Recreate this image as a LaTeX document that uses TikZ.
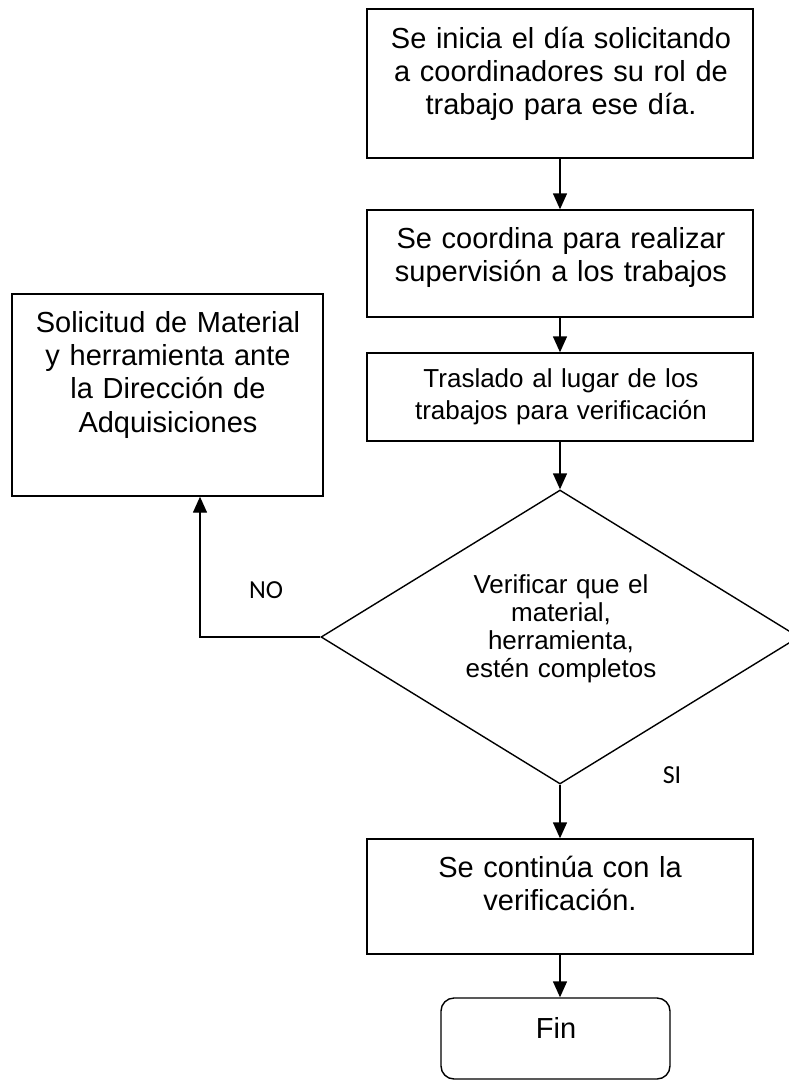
\documentclass[tikz,border=0pt]{standalone}
\usepackage{fontspec}
\setmainfont{Liberation Sans}
\newfontfamily\carlito{Carlito}
\usetikzlibrary{shapes.geometric,arrows.meta}
\begin{document}
\begin{tikzpicture}[x=1pt,y=-1pt,
  box/.style={draw,line width=1.4pt,minimum width=386pt,inner sep=0pt},
  big/.style={font=\fontsize{29}{33.4}\selectfont,align=center,anchor=base,inner sep=0pt},
  mid/.style={font=\fontsize{26}{32}\selectfont,align=center,anchor=base,inner sep=0pt},
  dtext/.style={font=\fontsize{26}{28.3}\selectfont,align=center,anchor=base,inner sep=0pt},
  lbl/.style={font=\carlito\fontsize{26}{30}\selectfont,anchor=base,inner sep=0pt},
  arr/.style={line width=1.4pt,-{Triangle[length=16pt,width=14pt]}}]
\useasboundingbox (0,0) rectangle (789,1082);
\fill[white] (0,0) rectangle (789,1082);
% shapes
\node[box,minimum height=149pt] (b1) at (560,83.5) {};
\node[box,minimum height=107pt] (b2) at (560,263.5) {};
\node[box,minimum height=88pt] (b3) at (560,397) {};
\node[draw,line width=1.4pt,diamond,minimum width=478pt,minimum height=294pt,inner sep=0pt] (dia) at (560,637) {};
\node[draw,line width=1.4pt,minimum width=311pt,minimum height=202pt,inner sep=0pt] (lb) at (167.5,395) {};
\node[box,minimum height=115pt] (b4) at (560,896.5) {};
\node[draw,line width=1.4pt,rounded corners=13pt,minimum width=229pt,minimum height=81pt,inner sep=0pt] (fin) at (555.5,1038.5) {};
% texts
\node[big,text width=380pt] (t1) at (561,48) {Se inicia el día solicitando\\a coordinadores su rol de\\trabajo para ese día.};
\node[big,text width=380pt] (t2) at (561,248) {Se coordina para realizar\\supervisión a los trabajos};
\node[mid,text width=380pt] (t3) at (561,387) {Traslado al lugar de los\\trabajos para verificación};
\node[dtext,text width=300pt] (td) at (561,593) {Verificar que el\\material,\\herramienta,\\estén completos};
\node[big,text width=305pt] (tl) at (168,332) {Solicitud de Material\\y herramienta ante\\la Dirección de\\Adquisiciones};
\node[big,text width=380pt] (t4) at (560,877) {Se continúa con la\\verificación.};
\node[big] (tf) at (556,1038) {Fin};
\node[lbl] (no) at (266,598) {NO};
\node[lbl] (si) at (672,783) {SI};
% connectors
\draw[arr] (b1.south) -- (b2.north);
\draw[arr] (b2.south) -- (b3.north);
\draw[arr] (b3.south) -- (dia.north);
\draw[arr] (dia.west) -| ([xshift=32.5pt]lb.south);
\draw[arr] (dia.south) -- (b4.north);
\draw[arr] (b4.south) -- (b4.south |- fin.north);
\end{tikzpicture}
\end{document}
